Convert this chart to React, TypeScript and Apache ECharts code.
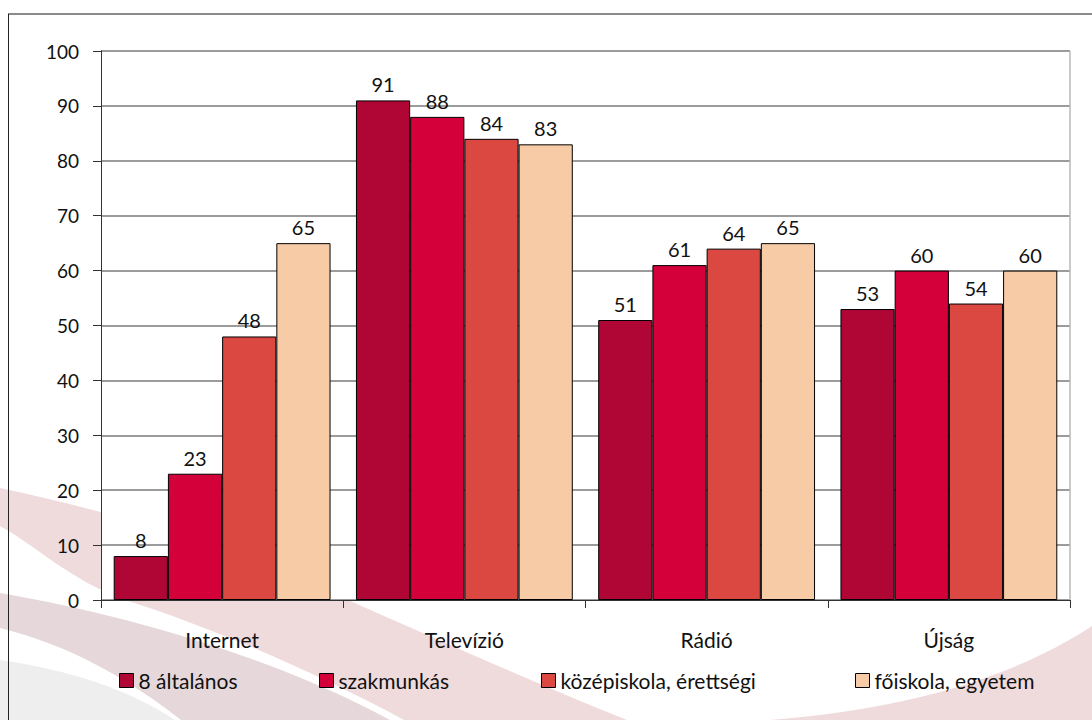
import React, { useEffect, useRef } from "react";
import * as echarts from "echarts";

const categories = ["Internet", "Televízió", "Rádió", "Újság"];
const seriesNames = ["8 általános", "szakmunkás", "középiskola, érettségi", "főiskola, egyetem"];
const s1 = [8, 91, 51, 53];
const s2 = [23, 88, 61, 60];
const s3 = [48, 84, 64, 54];
const s4 = [65, 83, 65, 60];
const seriesValues = [s1, s2, s3, s4];
const colors = ["#AF0636", "#D3003A", "#DB4741", "#F8CBA7"];
const legendLeft = [119, 319, 541, 855];

const FONT = "Lato, 'Open Sans', sans-serif";

export default function App() {
  const ref = useRef<HTMLDivElement>(null);
  useEffect(() => {
    if (!ref.current) return;
    echarts.graphic.registerShape(
      "swooshA",
      echarts.graphic.extendPath(
        "M0,488 C150,520 260,560 348,600 C450,645 540,685 627,720 L404,720 C320,675 220,630 125,600 C70,580 35,545 0,526 Z",
        {}
      )
    );
    echarts.graphic.registerShape(
      "swooshB",
      echarts.graphic.extendPath("M0,593 C130,615 280,660 390,720 L181,720 C130,680 70,645 0,628 Z", {})
    );
    echarts.graphic.registerShape(
      "swooshC",
      echarts.graphic.extendPath("M0,660 C70,670 130,690 175,720 L0,720 Z", {})
    );
    echarts.graphic.registerShape(
      "swooshD",
      echarts.graphic.extendPath("M770,720 C900,710 1010,680 1092,626 L1092,720 Z", {})
    );
    const chart = echarts.init(ref.current, null, { renderer: "svg" });
    chart.setOption({
      animation: false,
      backgroundColor: "#ffffff",
      textStyle: { fontFamily: FONT },
      grid: {
        left: 101,
        right: 22,
        top: 51,
        bottom: 120,
        show: true,
        backgroundColor: "#ffffff",
        borderWidth: 0,
        z: 1,
      },
      graphic: [
        { type: "swooshA", z: -10, style: { fill: "#efdadc" }, silent: true },
        { type: "swooshB", z: -10, style: { fill: "#e6d8da" }, silent: true },
        { type: "swooshC", z: -10, style: { fill: "#eeeeee" }, silent: true },
        { type: "swooshD", z: -10, style: { fill: "#efdadc" }, silent: true },
        {
          type: "line",
          z: 5,
          shape: { x1: 8, y1: 14, x2: 1092, y2: 14 },
          style: { stroke: "#8a8a8a", lineWidth: 2 },
        },
        {
          type: "line",
          z: 5,
          shape: { x1: 8.5, y1: 14, x2: 8.5, y2: 720 },
          style: { stroke: "#222", lineWidth: 1 },
        },
        {
          type: "line",
          z: 5,
          shape: { x1: 1070, y1: 51, x2: 1070, y2: 600 },
          style: { stroke: "#b8b8b8", lineWidth: 1.5 },
        },
      ],
      legend: seriesNames.map((n, i) => ({
        data: [n],
        left: legendLeft[i],
        top: 670,
        padding: 0,
        itemWidth: 14,
        itemHeight: 14,
        icon: "rect",
        itemStyle: { borderColor: "#000", borderWidth: 1 },
        textStyle: { fontSize: 21, color: "#111", fontFamily: FONT },
      })),
      xAxis: {
        type: "category",
        data: categories,
        axisLine: { lineStyle: { color: "#333", width: 1 } },
        axisTick: { show: true, length: 8, lineStyle: { color: "#333" } },
        axisLabel: { fontSize: 21, color: "#111", margin: 29, fontFamily: FONT },
        z: 3,
      },
      yAxis: {
        type: "value",
        min: 0,
        max: 100,
        interval: 10,
        axisLine: { show: true, lineStyle: { color: "#333", width: 1 } },
        axisTick: { show: true, length: 8, lineStyle: { color: "#333" } },
        axisLabel: { fontSize: 19, color: "#111", margin: 22, fontFamily: FONT },
        splitLine: { lineStyle: { color: "#7a7a7a", width: 1.5 } },
        z: 3,
      },
      series: seriesValues.map((vals, i) => ({
        name: seriesNames[i],
        type: "bar",
        data: vals,
        barGap: "0%",
        barCategoryGap: "10.5%",
        z: 4,
        itemStyle: { color: colors[i], borderColor: "#000", borderWidth: 1 },
        label: {
          show: true,
          position: "top",
          distance: 6,
          fontSize: 20,
          color: "#111",
          fontFamily: FONT,
        },
      })),
    });
    return () => chart.dispose();
  }, []);
  return (
    <div
      ref={ref}
      style={{ position: "fixed", left: 0, top: 0, width: 1092, height: 720 }}
    />
  );
}
